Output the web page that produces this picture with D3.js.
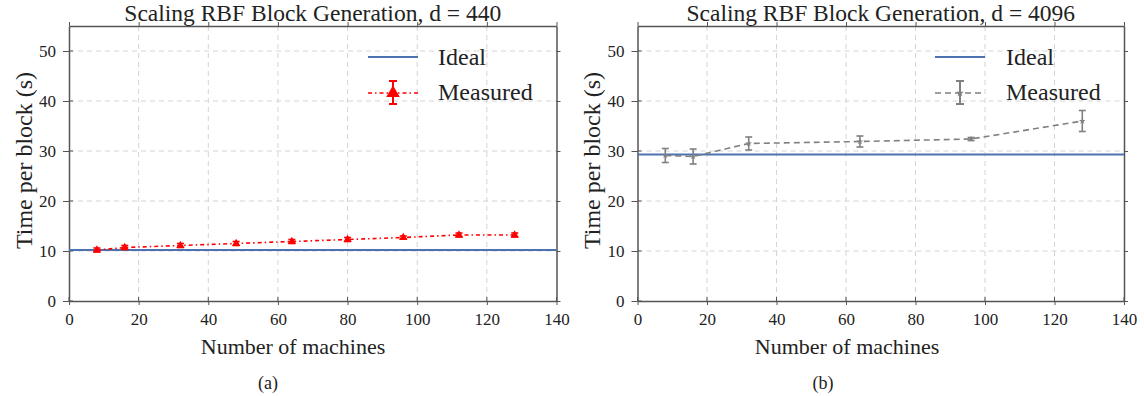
<!DOCTYPE html>
<html>
<head>
<meta charset="utf-8">
<script src="https://cdn.jsdelivr.net/npm/d3@7"></script>
<style>
  body { margin: 0; background: #fff; }
  svg text { font-family: "Liberation Serif", "Times New Roman", serif; fill: #222; }
</style>
</head>
<body>
<div id="chart"></div>
<script>
// data
var machines = [8, 16, 32, 48, 64, 80, 96, 112, 128];
var measuredA = [10.2, 10.7, 11.1, 11.5, 11.9, 12.3, 12.7, 13.2, 13.2];
var errA = [0.4, 0.4, 0.4, 0.4, 0.4, 0.4, 0.3, 0.4, 0.4];
var idealA = 10.2;

var machinesB = [8, 16, 32, 64, 96, 128];
var measuredB = [29.1, 28.9, 31.5, 31.9, 32.4, 36.0];
var errB = [1.4, 1.5, 1.3, 1.1, 0.3, 2.1];
var idealB = 29.3;

var xTicks = [0, 20, 40, 60, 80, 100, 120, 140];
var yTicks = [0, 10, 20, 30, 40, 50];

var width = 1144, height = 396;
var svg = d3.select('#chart').append('svg').attr('width', width).attr('height', height);

var panels = [
  {title: 'Scaling RBF Block Generation, d = 440', caption: '(a)', left: 69, right: 556.5,
   xs: machines, ys: measuredA, err: errA, ideal: idealA, color: 'red', dash: '4,3,1.5,3',
   marker: 'tri', xLabelX: 293, yLabelX: 32, legX: 368, legTextX: 438, capX: 268},
  {title: 'Scaling RBF Block Generation, d = 4096', caption: '(b)', left: 637.5, right: 1124,
   xs: machinesB, ys: measuredB, err: errB, ideal: idealB, color: '#808080', dash: '6,4',
   marker: 'star', xLabelX: 847, yLabelX: 600, legX: 935, legTextX: 1006, capX: 823}
];

var plotTop = 26, plotBottom = 301;

panels.forEach(function (p) {
  var x = d3.scaleLinear().domain([0, 140]).range([p.left, p.right]);
  var y = d3.scaleLinear().domain([0, 55]).range([plotBottom, plotTop]);
  var g = svg.append('g');

  // grid
  g.selectAll('.gx').data(xTicks.slice(1, -1)).join('line')
    .attr('x1', d => x(d)).attr('x2', d => x(d)).attr('y1', plotTop).attr('y2', plotBottom)
    .attr('stroke', '#d4d4d4').attr('stroke-dasharray', '5,4').attr('stroke-width', 1);
  g.selectAll('.gy').data(yTicks.slice(1)).join('line')
    .attr('x1', p.left).attr('x2', p.right).attr('y1', d => y(d)).attr('y2', d => y(d))
    .attr('stroke', '#d4d4d4').attr('stroke-dasharray', '5,4').attr('stroke-width', 1);

  // axes
  var xb = g.append('g').attr('transform', 'translate(0,' + plotBottom + ')')
    .call(d3.axisBottom(x).tickValues(xTicks).tickSizeInner(4).tickSizeOuter(0).tickPadding(8));
  var xt = g.append('g').attr('transform', 'translate(0,' + plotTop + ')')
    .call(d3.axisTop(x).tickValues(xTicks).tickSizeInner(4).tickSizeOuter(0).tickFormat(''));
  var yl = g.append('g').attr('transform', 'translate(' + p.left + ',0)')
    .call(d3.axisLeft(y).tickValues(yTicks).tickSizeInner(6).tickSizeOuter(0).tickPadding(7));
  var yr = g.append('g').attr('transform', 'translate(' + p.right + ',0)')
    .call(d3.axisRight(y).tickValues(yTicks).tickSizeInner(4).tickSizeOuter(0).tickFormat(''));
  [xb, xt, yl, yr].forEach(function (a) {
    a.attr('font-size', 17).attr('font-family', '"Liberation Serif", serif');
    a.select('.domain').attr('stroke', '#555').attr('stroke-width', 1.5);
    a.selectAll('.tick line').attr('stroke', '#555').attr('stroke-width', 1);
    a.selectAll('.tick text').attr('fill', '#333');
  });
  // inward halves of ticks
  g.selectAll('.tin').data(xTicks).join('line')
    .attr('x1', d => x(d)).attr('x2', d => x(d)).attr('y1', plotBottom).attr('y2', plotBottom - 4)
    .attr('stroke', '#555');
  g.selectAll('.tin2').data(yTicks).join('line')
    .attr('x1', p.left).attr('x2', p.left + 4).attr('y1', d => y(d)).attr('y2', d => y(d))
    .attr('stroke', '#555');

  // ideal line
  g.append('line').attr('x1', p.left).attr('x2', p.right)
    .attr('y1', y(p.ideal)).attr('y2', y(p.ideal))
    .attr('stroke', '#4C72B0').attr('stroke-width', 2);

  // measured line
  var pts = p.xs.map((d, i) => [d, p.ys[i], p.err[i]]);
  g.append('path').datum(pts)
    .attr('d', d3.line().x(d => x(d[0])).y(d => y(d[1])))
    .attr('fill', 'none').attr('stroke', p.color).attr('stroke-width', 1.6)
    .attr('stroke-dasharray', p.dash);

  // error bars
  var eb = g.selectAll('.eb').data(pts).join('g');
  eb.append('line').attr('x1', d => x(d[0])).attr('x2', d => x(d[0]))
    .attr('y1', d => y(d[1] - d[2])).attr('y2', d => y(d[1] + d[2]))
    .attr('stroke', p.color).attr('stroke-width', 1.6);
  eb.selectAll('.cap').data(d => [[d[0], d[1] - d[2]], [d[0], d[1] + d[2]]]).join('line')
    .attr('x1', d => x(d[0]) - 3.5).attr('x2', d => x(d[0]) + 3.5)
    .attr('y1', d => y(d[1])).attr('y2', d => y(d[1]))
    .attr('stroke', p.color).attr('stroke-width', 1.6);

  var sym = p.marker === 'tri' ? d3.symbol(d3.symbolTriangle, 30) : d3.symbol(d3.symbolStar, 14);
  g.selectAll('.mk').data(pts).join('path')
    .attr('transform', d => 'translate(' + x(d[0]) + ',' + y(d[1]) + ')')
    .attr('d', sym).attr('fill', p.color);

  // titles and labels
  g.append('text').attr('x', (p.left + p.right) / 2).attr('y', 21)
    .attr('text-anchor', 'middle').attr('font-size', 23.5).text(p.title);
  g.append('text').attr('x', p.xLabelX).attr('y', 354)
    .attr('text-anchor', 'middle').attr('font-size', 22).text('Number of machines');
  g.append('text').attr('transform', 'translate(' + p.yLabelX + ',' + ((plotTop + plotBottom) / 2 - 3) + ') rotate(-90)')
    .attr('text-anchor', 'middle').attr('font-size', 24).text('Time per block (s)');
  g.append('text').attr('x', p.capX).attr('y', 389)
    .attr('text-anchor', 'middle').attr('font-size', 18).text(p.caption);

  // legend
  var lx0 = p.legX, lx1 = p.legX + 50, lm = (lx0 + lx1) / 2;
  g.append('line').attr('x1', lx0).attr('x2', lx1).attr('y1', 57).attr('y2', 57)
    .attr('stroke', '#4C72B0').attr('stroke-width', 2);
  g.append('text').attr('x', p.legTextX).attr('y', 65).attr('font-size', 24).text('Ideal');
  var ly = 93;
  g.append('line').attr('x1', lx0).attr('x2', lx1).attr('y1', ly).attr('y2', ly)
    .attr('stroke', p.color).attr('stroke-width', 1.6).attr('stroke-dasharray', p.dash);
  g.append('line').attr('x1', lm).attr('x2', lm).attr('y1', ly - 12).attr('y2', ly + 11)
    .attr('stroke', p.color).attr('stroke-width', 2);
  [ly - 12, ly + 11].forEach(function (yy) {
    g.append('line').attr('x1', lm - 4).attr('x2', lm + 4).attr('y1', yy).attr('y2', yy)
      .attr('stroke', p.color).attr('stroke-width', 2);
  });
  var lsym = p.marker === 'tri' ? d3.symbol(d3.symbolTriangle, 80) : d3.symbol(d3.symbolStar, 20);
  g.append('path').attr('transform', 'translate(' + lm + ',' + ly + ')')
    .attr('d', lsym).attr('fill', p.color);
  g.append('text').attr('x', p.legTextX).attr('y', 100).attr('font-size', 24).text('Measured');
});
</script>
</body>
</html>
